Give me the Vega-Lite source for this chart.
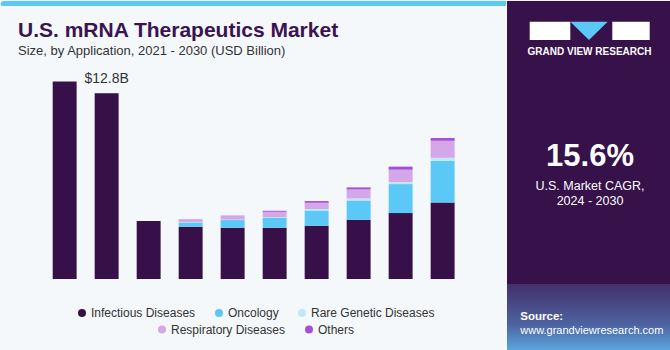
{
  "$schema": "https://vega.github.io/schema/vega-lite/v6.json",
  "background": "#f4f8fb",
  "padding": 0,
  "spacing": 0,
  "config": {"view": {"stroke": null}, "font": "Liberation Sans"},
  "datasets": {
    "market": [
      {"year": 2021, "application": "Infectious Diseases", "revenue": 13.6},
      {"year": 2022, "application": "Infectious Diseases", "revenue": 12.8},
      {"year": 2023, "application": "Infectious Diseases", "revenue": 3.99},
      {"year": 2024, "application": "Infectious Diseases", "revenue": 3.6},
      {"year": 2024, "application": "Oncology", "revenue": 0.3},
      {"year": 2024, "application": "Rare Genetic Diseases", "revenue": 0.03},
      {"year": 2024, "application": "Respiratory Diseases", "revenue": 0.16},
      {"year": 2024, "application": "Others", "revenue": 0.02},
      {"year": 2025, "application": "Infectious Diseases", "revenue": 3.53},
      {"year": 2025, "application": "Oncology", "revenue": 0.53},
      {"year": 2025, "application": "Rare Genetic Diseases", "revenue": 0.03},
      {"year": 2025, "application": "Respiratory Diseases", "revenue": 0.24},
      {"year": 2025, "application": "Others", "revenue": 0.03},
      {"year": 2026, "application": "Infectious Diseases", "revenue": 3.53},
      {"year": 2026, "application": "Oncology", "revenue": 0.69},
      {"year": 2026, "application": "Rare Genetic Diseases", "revenue": 0.04},
      {"year": 2026, "application": "Respiratory Diseases", "revenue": 0.37},
      {"year": 2026, "application": "Others", "revenue": 0.07},
      {"year": 2027, "application": "Infectious Diseases", "revenue": 3.67},
      {"year": 2027, "application": "Oncology", "revenue": 1.05},
      {"year": 2027, "application": "Rare Genetic Diseases", "revenue": 0.1},
      {"year": 2027, "application": "Respiratory Diseases", "revenue": 0.43},
      {"year": 2027, "application": "Others", "revenue": 0.12},
      {"year": 2028, "application": "Infectious Diseases", "revenue": 4.08},
      {"year": 2028, "application": "Oncology", "revenue": 1.33},
      {"year": 2028, "application": "Rare Genetic Diseases", "revenue": 0.14},
      {"year": 2028, "application": "Respiratory Diseases", "revenue": 0.62},
      {"year": 2028, "application": "Others", "revenue": 0.14},
      {"year": 2029, "application": "Infectious Diseases", "revenue": 4.54},
      {"year": 2029, "application": "Oncology", "revenue": 2.0},
      {"year": 2029, "application": "Rare Genetic Diseases", "revenue": 0.14},
      {"year": 2029, "application": "Respiratory Diseases", "revenue": 0.85},
      {"year": 2029, "application": "Others", "revenue": 0.21},
      {"year": 2030, "application": "Infectious Diseases", "revenue": 5.27},
      {"year": 2030, "application": "Oncology", "revenue": 2.87},
      {"year": 2030, "application": "Rare Genetic Diseases", "revenue": 0.21},
      {"year": 2030, "application": "Respiratory Diseases", "revenue": 1.17},
      {"year": 2030, "application": "Others", "revenue": 0.19}
    ]
  },
  "hconcat": [
    {
      "width": 505,
      "height": 278,
      "layer": [
        {
          "data": {"values": [{}]},
          "mark": {"type": "rect", "x": 0, "x2": "width", "y": 0, "y2": 5, "fill": "#5bc8f5", "cornerRadiusTopLeft": 3},
          "encoding": {}
        },
        {
          "data": {"values": [{}]},
          "mark": {"type": "rule", "x": 0, "x2": "width", "y": 348, "stroke": "#d3d7db", "strokeWidth": 1},
          "encoding": {}
        },
        {
          "data": {"values": [{}]},
          "mark": {"type": "rule", "x": 0.5, "y": 0, "y2": 348, "stroke": "#d3d7db", "strokeWidth": 1},
          "encoding": {}
        },
        {
          "data": {"values": [{}]},
          "mark": {"type": "text", "text": "U.S. mRNA Therapeutics Market", "x": 17, "y": 35.5, "align": "left", "baseline": "alphabetic", "fontSize": 21, "fontWeight": "bold", "color": "#3a1450"},
          "encoding": {}
        },
        {
          "data": {"values": [{}]},
          "mark": {"type": "text", "text": "Size, by Application, 2021 - 2030 (USD Billion)", "x": 17, "y": 53.5, "align": "left", "baseline": "alphabetic", "fontSize": 13, "color": "#333333"},
          "encoding": {}
        },
        {
          "data": {"name": "market"},
          "transform": [
            {"stack": "revenue", "groupby": ["year"], "as": ["low", "high"]},
            {"filter": {"field": "application", "oneOf": ["Infectious Diseases", "Oncology", "Rare Genetic Diseases"]}}
          ],
          "mark": {"type": "bar"},
          "encoding": {
            "x": {
              "field": "year", "type": "ordinal",
              "scale": {"domain": [2021, 2022, 2023, 2024, 2025, 2026, 2027, 2028, 2029, 2030], "paddingInner": 0.43, "paddingOuter": 1, "range": [9.7, 495.6]},
              "axis": {"title": null, "domain": false, "ticks": false, "labelAngle": 0, "labelFontSize": 12.5, "labelColor": "#333333", "labelPadding": 4}
            },
            "y": {"field": "high", "type": "quantitative", "scale": {"domain": [0, 19.15], "nice": false}, "axis": null},
            "y2": {"field": "low"},
            "color": {
              "field": "application", "type": "nominal",
              "scale": {"domain": ["Infectious Diseases", "Oncology", "Rare Genetic Diseases"], "range": ["#37104a", "#5bc8f5", "#c3e7f7"]},
              "legend": {"orient": "none", "legendX": 75, "legendY": 306, "direction": "horizontal", "title": null, "symbolType": "circle", "symbolSize": 64, "labelFontSize": 12, "labelColor": "#333333", "columnPadding": 17, "labelOffset": 3}
            }
          }
        },
        {
          "data": {"name": "market"},
          "transform": [
            {"stack": "revenue", "groupby": ["year"], "as": ["low", "high"]},
            {"filter": {"field": "application", "oneOf": ["Respiratory Diseases", "Others"]}}
          ],
          "mark": {"type": "bar"},
          "encoding": {
            "x": {"field": "year", "type": "ordinal", "axis": null},
            "y": {"field": "high", "type": "quantitative"},
            "y2": {"field": "low"},
            "fill": {
              "field": "application", "type": "nominal",
              "scale": {"domain": ["Respiratory Diseases", "Others"], "range": ["#d4a6ea", "#a54fd6"]},
              "legend": {"orient": "none", "legendX": 155, "legendY": 322.5, "direction": "horizontal", "title": null, "symbolType": "circle", "symbolSize": 64, "labelFontSize": 12, "labelColor": "#333333", "columnPadding": 17, "labelOffset": 3}
            }
          }
        },
        {
          "data": {"name": "market"},
          "transform": [{"filter": "datum.year == 2022"}],
          "mark": {"type": "text", "text": "$12.8B", "dy": -10.5, "baseline": "alphabetic", "fontSize": 14, "color": "#333333"},
          "encoding": {
            "x": {"field": "year", "type": "ordinal", "axis": null},
            "y": {"field": "revenue", "type": "quantitative"}
          }
        }
      ]
    },
    {
      "width": 165,
      "height": 350,
      "view": {"fill": "#36114a", "stroke": null},
      "layer": [
        {
          "data": {"values": [{}]},
          "mark": {"type": "rect", "x": 0, "x2": "width", "y": 283, "y2": "height",
            "fill": {"gradient": "linear", "x1": 0, "y1": 0, "x2": 0, "y2": 1, "stops": [{"offset": 0, "color": "#45306a"}, {"offset": 0.6, "color": "#4d62a0"}, {"offset": 1, "color": "#5aa8de"}]}},
          "encoding": {}
        },
        {
          "data": {"values": [{}]},
          "mark": {"type": "rect", "x": 22.7, "x2": 63.3, "y": 20.7, "y2": 39, "fill": "#ffffff"},
          "encoding": {}
        },
        {
          "data": {"values": [{}]},
          "mark": {"type": "rect", "x": 105.3, "x2": 142.7, "y": 20.7, "y2": 39, "fill": "#ffffff"},
          "encoding": {}
        },
        {
          "data": {"values": [{}]},
          "mark": {"type": "point", "shape": "M-1,-0.49 L1,-0.49 L0,0.49 Z", "x": 82, "y": 29.85, "size": 1399, "filled": true, "fill": "#5bc8f5", "opacity": 1, "strokeWidth": 0},
          "encoding": {}
        },
        {
          "data": {"values": [{}]},
          "mark": {"type": "rule", "x": 39, "x2": 63.3, "y": 30.3, "stroke": "#36114a", "strokeWidth": 1},
          "encoding": {}
        },
        {
          "data": {"values": [{}]},
          "mark": {"type": "rule", "x": 39, "y": 30.3, "y2": 39, "stroke": "#36114a", "strokeWidth": 1},
          "encoding": {}
        },
        {
          "data": {"values": [{}]},
          "mark": {"type": "rule", "x": 128.3, "y": 30, "x2": 142.7, "y2": 35.7, "stroke": "#36114a", "strokeWidth": 1},
          "encoding": {}
        },
        {
          "data": {"values": [{}]},
          "mark": {"type": "text", "text": "GRAND VIEW RESEARCH", "x": 82.5, "y": 50.7, "baseline": "middle", "align": "center", "fontSize": 10, "fontWeight": "bold", "color": "#ffffff"},
          "encoding": {}
        },
        {
          "data": {"values": [{}]},
          "mark": {"type": "text", "text": "15.6%", "x": 83, "y": 165, "align": "center", "baseline": "alphabetic", "fontSize": 31, "fontWeight": "bold", "color": "#ffffff"},
          "encoding": {}
        },
        {
          "data": {"values": [{}]},
          "mark": {"type": "rule", "x": 17, "x2": 146.7, "y": 173.3, "stroke": "#c9c0d2", "strokeWidth": 1},
          "encoding": {}
        },
        {
          "data": {"values": [{}]},
          "mark": {"type": "text", "text": ["U.S. Market CAGR,", "2024 - 2030"], "x": 83, "y": 185, "baseline": "middle", "align": "center", "lineHeight": 15, "fontSize": 12.5, "color": "#ffffff"},
          "encoding": {}
        },
        {
          "data": {"values": [{}]},
          "mark": {"type": "text", "text": "Source:", "x": 13.3, "y": 315.7, "baseline": "middle", "align": "left", "fontSize": 11.5, "fontWeight": "bold", "color": "#ffffff"},
          "encoding": {}
        },
        {
          "data": {"values": [{}]},
          "mark": {"type": "text", "text": "www.grandviewresearch.com", "x": 13.3, "y": 330, "baseline": "middle", "align": "left", "fontSize": 11, "color": "#ffffff"},
          "encoding": {}
        }
      ]
    }
  ]
}
